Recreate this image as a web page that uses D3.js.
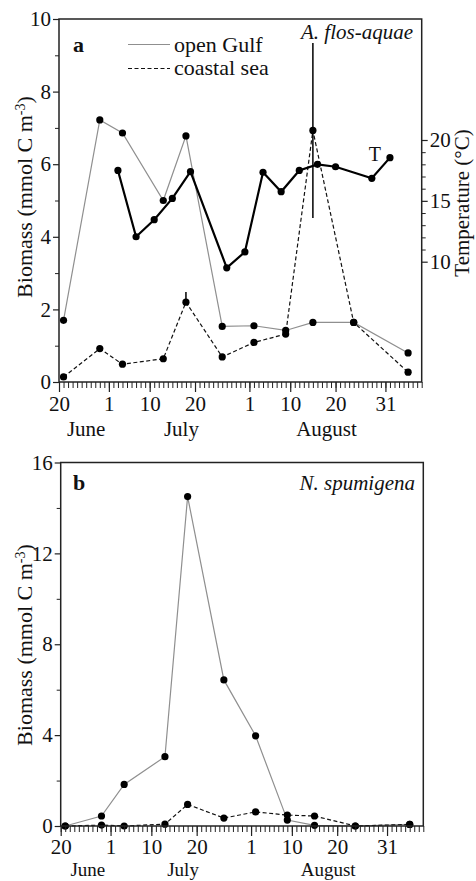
<!DOCTYPE html>
<html>
<head>
<meta charset="utf-8">
<script src="https://cdn.jsdelivr.net/npm/d3@7"></script>
<style>
  html, body { margin: 0; padding: 0; background: #fff; }
  svg { display: block; }
  text { font-family: "Liberation Serif", "Times New Roman", serif; fill: #111; }
</style>
</head>
<body>
<script>
// Sampling dates (month-day) shared by both biomass panels
const sampleDates = ["06-21", "06-29", "07-04", "07-13", "07-18", "07-26", "08-02", "08-09", "08-15", "08-24", "09-05"];

// Panel a: Aphanizomenon flos-aquae biomass (mmol C m-3)
const aOpenGulf = [1.70, 7.22, 6.86, 5.00, 6.78, 1.53, 1.55, 1.42, 1.64, 1.64, 0.80];
const aCoastal  = [0.14, 0.92, 0.49, 0.64, 2.20, 0.69, 1.09, 1.32, 6.93, 1.64, 0.27];
// Error bars on coastal values: [date, low, high]
const aCoastalErr = [["07-18", 2.20, 2.48], ["08-15", 4.52, 9.34]];

// Panel a: surface water temperature (°C)
const tempDates  = ["07-03", "07-07", "07-11", "07-15", "07-19", "07-27", "07-31", "08-04", "08-08", "08-12", "08-16", "08-20", "08-28", "09-01"];
const tempValues = [17.5, 12.05, 13.45, 15.2, 17.4, 9.5, 10.8, 17.35, 15.75, 17.5, 18.0, 17.8, 16.85, 18.55];

// Panel b: Nodularia spumigena biomass (mmol C m-3)
const bOpenGulf = [0.00, 0.44, 1.83, 3.05, 14.5, 6.43, 3.97, 0.26, 0.03, 0.00, 0.07];
const bCoastal  = [0.00, 0.04, 0.00, 0.08, 0.95, 0.35, 0.62, 0.48, 0.44, 0.00, 0.07];

// Time axis
const xDomain = ["06-20", "09-08"];
const majorTickDates  = ["06-20", "07-01", "07-10", "07-20", "08-01", "08-10", "08-20", "08-31"];
const majorTickLabels = ["20", "1", "10", "20", "1", "10", "20", "31"];
const monthLabels = ["June", "July", "August"];
const monthLabelDates = ["06-26", "07-17", "08-18"];

// Value axes
const aBiomassTicks = [0, 2, 4, 6, 8, 10];
const aBiomassMinor = [1, 3, 5, 7, 9];
const tempTicks = [10, 15, 20];
const tempMinor = [11, 12, 13, 14, 16, 17, 18, 19];
const bBiomassTicks = [0, 4, 8, 12, 16];
const bBiomassMinor = [2, 6, 10, 14];

const parseMD = d3.utcParse("%m-%d");
const W = 476, H = 881;
const GRAY = "#8f8f8f";
const FONT = 21;

const svg = d3.select("body").append("svg")
  .attr("width", W).attr("height", H)
  .attr("viewBox", `0 0 ${W} ${H}`);
svg.append("rect").attr("width", W).attr("height", H).attr("fill", "#fff");

function timeAxes(g, x, yBottom, tickY, monthY, monthSize) {
  const days = d3.utcDay.range(parseMD(xDomain[0]), d3.utcDay.offset(parseMD(xDomain[1]), 1));
  const minor = g.append("g").attr("transform", `translate(0,${yBottom})`)
    .call(d3.axisBottom(x).tickValues(days).tickSize(6).tickFormat(""));
  minor.select(".domain").remove();
  minor.selectAll("line").attr("stroke", "#222").attr("stroke-width", 1);

  const major = g.append("g").attr("transform", `translate(0,${yBottom})`)
    .call(d3.axisBottom(x).tickValues(majorTickDates.map(parseMD)).tickSize(10)
      .tickFormat((d, i) => majorTickLabels[i]));
  major.select(".domain").remove();
  major.selectAll("line").attr("stroke", "#222").attr("stroke-width", 1.2);
  major.selectAll("text").attr("font-size", FONT).attr("fill", "#111")
    .attr("dy", "0").attr("y", tickY)
    .style("font-family", '"Liberation Serif", serif');

  g.selectAll(".month").data(monthLabels).join("text")
    .attr("class", "month")
    .attr("x", (d, i) => x(parseMD(monthLabelDates[i])))
    .attr("y", yBottom + monthY)
    .attr("text-anchor", "middle")
    .attr("font-size", monthSize)
    .text(d => d);
}

function valueAxis(g, y, xPos, ticks, minorTicks, right) {
  const mk = right ? d3.axisRight : d3.axisLeft;
  const minor = g.append("g").attr("transform", `translate(${xPos},0)`)
    .call(mk(y).tickValues(minorTicks).tickSize(4).tickFormat(""));
  minor.select(".domain").remove();
  minor.selectAll("line").attr("stroke", "#222");
  const major = g.append("g").attr("transform", `translate(${xPos},0)`)
    .call(mk(y).tickValues(ticks).tickSize(6).tickPadding(2));
  major.select(".domain").remove();
  major.selectAll("line").attr("stroke", "#222").attr("stroke-width", 1.2);
  major.selectAll("text").attr("font-size", FONT).attr("fill", "#111")
    .style("font-family", '"Liberation Serif", serif');
}

function yTitle(g, cx, cy, parts) {
  const t = g.append("text")
    .attr("transform", `translate(${cx},${cy}) rotate(-90)`)
    .attr("text-anchor", "middle")
    .attr("font-size", 22);
  parts.forEach(p => {
    const s = t.append("tspan").text(p.t);
    if (p.sup) s.attr("font-size", 14).attr("baseline-shift", "super");
  });
}

function series(g, x, y, dates, values, opts) {
  const pts = dates.map((d, i) => [parseMD(d), values[i]]);
  g.append("path").datum(pts)
    .attr("fill", "none")
    .attr("stroke", opts.color)
    .attr("stroke-width", opts.width)
    .attr("stroke-dasharray", opts.dash || null)
    .attr("d", d3.line().x(d => x(d[0])).y(d => y(d[1])));
  return pts;
}

function dots(g, x, y, pts, r) {
  g.selectAll(null).data(pts).join("circle")
    .attr("cx", d => x(d[0])).attr("cy", d => y(d[1]))
    .attr("r", r).attr("fill", "#000");
}

function frame(g, x0, x1, y0, y1) {
  g.append("rect").attr("x", x0).attr("y", y0)
    .attr("width", x1 - x0).attr("height", y1 - y0)
    .attr("fill", "none").attr("stroke", "#222").attr("stroke-width", 1.5);
}

// ---------------- Panel a ----------------
{
  const L = 59, R = 421.7, T = 19, B = 382;
  const g = svg.append("g");
  const x = d3.scaleUtc().domain(xDomain.map(parseMD)).range([L, R]);
  const y = d3.scaleLinear().domain([0, 10]).range([B, T]);
  const yT = d3.scaleLinear().domain([10, 20]).range([261.7, 140]);

  const og = series(g, x, y, sampleDates, aOpenGulf, { color: GRAY, width: 1.2 });
  const cs = series(g, x, y, sampleDates, aCoastal, { color: "#111", width: 1.2, dash: "4,2.5" });
  const tp = series(g, x, yT, tempDates, tempValues, { color: "#000", width: 2.2 });

  g.selectAll(".err").data(aCoastalErr).join("line")
    .attr("x1", d => x(parseMD(d[0]))).attr("x2", d => x(parseMD(d[0])))
    .attr("y1", d => y(d[1])).attr("y2", d => y(d[2]))
    .attr("stroke", "#000").attr("stroke-width", 1.5);

  dots(g, x, y, og, 3.6);
  dots(g, x, y, cs, 3.6);
  dots(g, x, yT, tp, 3.6);

  frame(g, L, R, T, B);
  timeAxes(g, x, B, 29, 54, 21);
  valueAxis(g, y, L, aBiomassTicks, aBiomassMinor, false);
  valueAxis(g, yT, R, tempTicks, tempMinor, true);

  yTitle(g, 32, 197, [{ t: "Biomass (mmol C m" }, { t: "-3", sup: true }, { t: ")" }]);
  g.append("text")
    .attr("transform", `translate(469,203) rotate(-90)`)
    .attr("text-anchor", "middle").attr("font-size", 21)
    .text("Temperature (°C)");

  // "T" marker next to the temperature line
  g.append("text").attr("x", x(parseMD("08-28")) + 3).attr("y", yT(18.3))
    .attr("text-anchor", "middle").attr("font-size", 20).text("T");

  g.append("text").attr("x", 73).attr("y", 52).attr("font-size", 22)
    .attr("font-weight", "bold").text("a");
  g.append("text").attr("x", 413).attr("y", 39).attr("font-size", 21)
    .attr("font-style", "italic").attr("text-anchor", "end").text("A. flos-aquae");

  // legend
  const lg = g.append("g");
  lg.append("line").attr("x1", 128).attr("x2", 170).attr("y1", 44.5).attr("y2", 44.5)
    .attr("stroke", GRAY).attr("stroke-width", 1.2);
  lg.append("text").attr("x", 174).attr("y", 52).attr("font-size", 22).text("open Gulf");
  lg.append("line").attr("x1", 128).attr("x2", 170).attr("y1", 68.5).attr("y2", 68.5)
    .attr("stroke", "#111").attr("stroke-width", 1.2).attr("stroke-dasharray", "4,2.5");
  lg.append("text").attr("x", 174).attr("y", 75).attr("font-size", 22).text("coastal sea");
}

// ---------------- Panel b ----------------
{
  const L = 60.7, R = 423.3, T = 462.5, B = 826;
  const g = svg.append("g");
  const x = d3.scaleUtc().domain(xDomain.map(parseMD)).range([L, R]);
  const y = d3.scaleLinear().domain([0, 16]).range([B, T]);

  const og = series(g, x, y, sampleDates, bOpenGulf, { color: GRAY, width: 1.2 });
  const cs = series(g, x, y, sampleDates, bCoastal, { color: "#111", width: 1.2, dash: "4,2.5" });
  dots(g, x, y, og, 3.6);
  dots(g, x, y, cs, 3.6);

  frame(g, L, R, T, B);
  timeAxes(g, x, B, 28, 50, 19);
  valueAxis(g, y, L, bBiomassTicks, bBiomassMinor, false);

  yTitle(g, 32, 645, [{ t: "Biomass (mmol C m" }, { t: "-3", sup: true }, { t: ")" }]);

  g.append("text").attr("x", 73).attr("y", 490).attr("font-size", 22)
    .attr("font-weight", "bold").text("b");
  g.append("text").attr("x", 415).attr("y", 490).attr("font-size", 21)
    .attr("font-style", "italic").attr("text-anchor", "end").text("N. spumigena");
}
</script>
</body>
</html>
